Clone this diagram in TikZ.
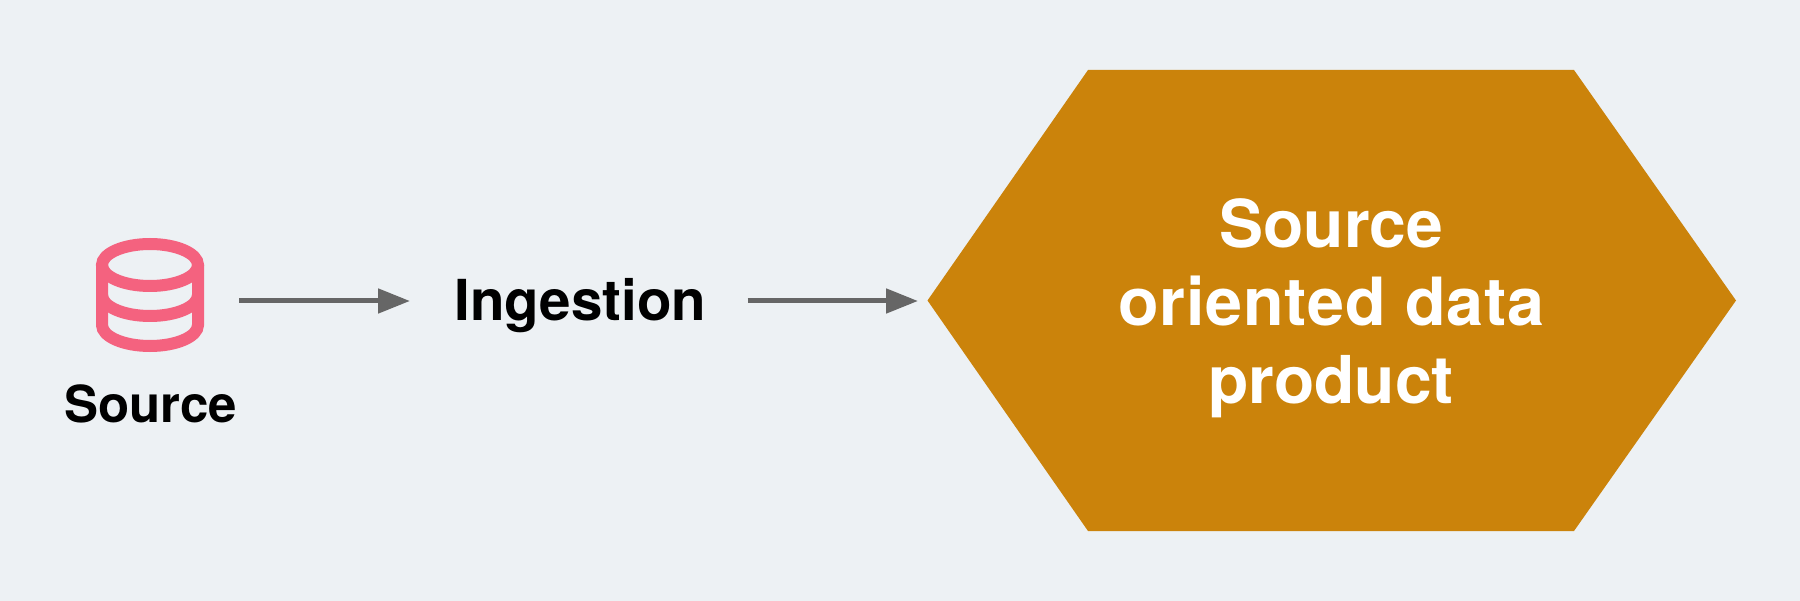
\documentclass[tikz,border=0pt]{standalone}
\usepackage{fontspec}
\setmainfont{TeX Gyre Heros}
\newfontfamily\spacedbold[LetterSpace=1.2]{TeX Gyre Heros Bold}
\usetikzlibrary{arrows.meta}
\definecolor{bgc}{HTML}{EDF1F4}
\definecolor{hexc}{HTML}{CB830B}
\definecolor{iconc}{HTML}{F4627F}
\definecolor{arrc}{HTML}{666666}
\tikzset{
 iconline/.style={draw=iconc,line width=12pt},
 flowarrow/.style={draw=arrc,line width=5pt,-{Triangle[length=32pt,width=24pt,fill=arrc]}},
 sourcelabel/.style={font=\bfseries\fontsize{51}{60}\selectfont,text=black,inner sep=0pt,anchor=base},
 ingestlabel/.style={font=\bfseries\fontsize{56.5}{66}\selectfont,text=black,inner sep=0pt,anchor=base},
 biglabel/.style={font=\bfseries\fontsize{66}{78}\selectfont,text=white,inner sep=0pt,anchor=base},
 spacedlabel/.style={font=\spacedbold\fontsize{66.5}{78}\selectfont,text=white,inner sep=0pt,anchor=base},
}
\begin{document}
\begin{tikzpicture}[x=1pt,y=-1pt]
\useasboundingbox (0,0) rectangle (1800,601);
\fill[bgc] (0,0) rectangle (1800,601);
% icon
\draw[iconline] (150,265) ellipse [x radius=48,y radius=21];
\draw[iconline] (102,265) -- (102,325) arc[start angle=180,end angle=0,x radius=48,y radius=21] -- (198,265);
\draw[iconline] (102,295) arc[start angle=180,end angle=0,x radius=48,y radius=21];
\node[sourcelabel] (source) at (150.5,422.5) {Source};
\coordinate (icon) at (239,301);
\node[ingestlabel] (ingestion) at (580.5,320.5) {Ingestion};
\coordinate (ingestL) at (410,301);
\coordinate (ingestR) at (747.5,301);
\coordinate (prodL) at (918,301);
\draw[flowarrow] (icon) -- (ingestL);
\draw[flowarrow] (ingestR) -- (prodL);
\fill[hexc] (927.5,300.5) -- (1088,70) -- (1574,70) -- (1736,300.5) -- (1574,531) -- (1088,531) -- cycle;
\node[biglabel] (l1) at (1331.5,248) {Source};
\node[spacedlabel] (l2) at (1331.5,326) {oriented data};
\node[biglabel] (l3) at (1331,404) {product};
\end{tikzpicture}
\end{document}
